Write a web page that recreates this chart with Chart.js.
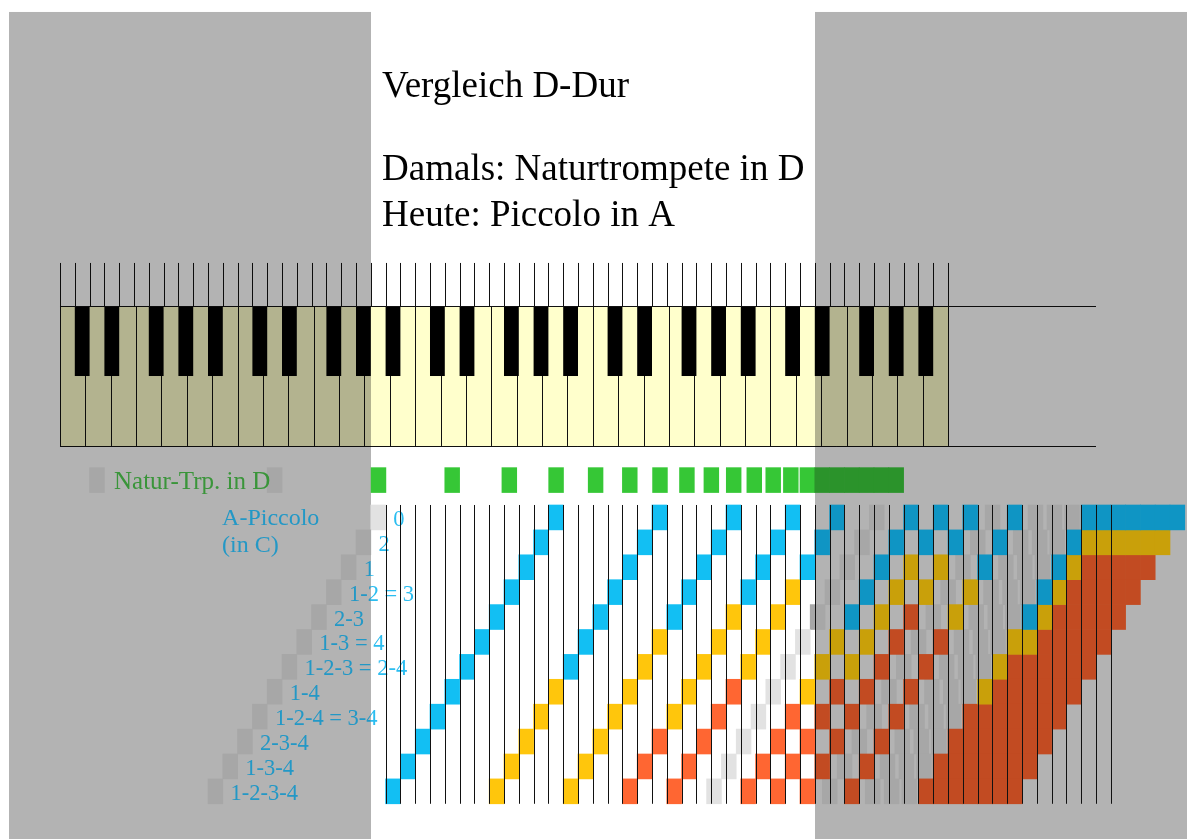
<!DOCTYPE html>
<html><head><meta charset="utf-8">
<script src="https://cdn.jsdelivr.net/npm/chart.js@4.4.1/dist/chart.umd.min.js"></script>
<style>html,body{margin:0;padding:0;background:#fff;overflow:hidden}canvas{display:block}</style>
</head><body>
<canvas id="c" width="1187" height="839" style="width:1187px;height:839px"></canvas>
<script>
// ---- data ----
const titleLines = ['Vergleich D-Dur', 'Damals: Naturtrompete in D', 'Heute: Piccolo in A'];
const trumpetLabel = 'Natur-Trp. in D';
const piccoloLabel = ['A-Piccolo', '(in C)'];
const valveLabels = ['0', '2', '1', '1-2 = 3', '2-3', '1-3 = 4', '1-2-3 = 2-4', '1-4', '1-2-4 = 3-4', '2-3-4', '1-3-4', '1-2-3-4'];
const valveSemitones = [0, 1, 2, 3, 4, 5, 6, 7, 8, 9, 10, 11];
const trumpetFundamental = 2;   // D, semitone index on the keyboard (C = 0)
const piccoloFundamental = 21;  // A
// harmonic 1..22 positions above the fundamental, in semitones
const trumpetOffsets = [0, 12, 19.02, 24, 27.86, 31.02, 33.69, 36, 38.04, 39.86, 41.51, 43.02, 44.41, 45.69, 46.88, 48, 49, 50, 51, 52, 53, 54];
const piccoloOffsets = [0, 12, 19, 24, 28, 31, 33.69, 36, 38, 40, 41.51, 43, 44.41, 45.69, 46.88, 48, 49, 50, 51, 52, 53, 54];
// g = unused (grey), G = natural trumpet, B = 1st fingering, Y = 2nd, O = 3rd and more
const trumpetColours = 'ggGGGGGGGGGGGGGGGGGGGG';
const piccoloColours = [
  'gBBBBBgBBBgBgggBBBBBBB',
  'gBBBBBgBBBgBgggBYYYYYY',
  'gBBBBBgBYYgBgggBYOOOOO',
  'gBBBBYgBYYgYgggBYOOOOO',
  'gBBBYYgBYOgYgggBYOOOOO',
  'gBBYYYgYYOgOgggYYOOOOO',
  'gBBYYYgYYOgOgggYOOOOOO',
  'gBYYYOgYOOgOgggYOOOOOO',
  'gBYYYOgOOOgOgggOOOOOOO',
  'gBYYOOgOOOgOgggOOOOOOO',
  'gBYYOOgOOOgOgggOOOOOOO',
  'gBYYOOgOOOgOgggOOOOOOO'
];
const blackKeySemitones = [1, 3, 6, 8, 10];
const keyboardOctaves = 5;
const gridColumns = [22, 71];     // first / last vertical line of the fingering grid
const brightBand = [21, 51];      // un-shaded semitone range

// ---- styles / layout ----
const COLOURS = { g: '#e2e2e2', G: '#36c736', B: '#12bff3', Y: '#ffc60c', O: '#ff6632' };
const SHADED = { g: '#a7a7a7', G: '#2b932b', B: '#0f95c4', Y: '#c9a00a', O: '#c24b22' };
const ORDER = { g: 3, G: 1, B: 1, Y: 1, O: 1 };
const TRUMPET_ROW = -1.5;
const KB = { tick: -10.22, top: -8.49, black: -5.68, bottom: -2.87, lineEnd: 70 };
const SHADE_LEFT = -3.45, SHADE_TOP = -20.3;

const groups = {};
function addCell(key, start, row) {
  if (!groups[key]) groups[key] = [];
  groups[key].push({ x: [start, start + 1], y: row });
}
trumpetColours.split('').forEach((k, i) => addCell(k === 'g' ? 'tg' : k, trumpetFundamental + trumpetOffsets[i], TRUMPET_ROW));
piccoloColours.forEach((s, r) => {
  s.split('').forEach((k, i) => addCell(k, piccoloFundamental - valveSemitones[r] + piccoloOffsets[i], valveSemitones[r]));
});
function inShade(raw) {
  const mid = (raw.x[0] + raw.x[1]) / 2;
  return mid < brightBand[0] || mid > brightBand[1];
}
const datasets = Object.keys(groups).map(k => {
  const c = k === 'tg' ? 'g' : k;
  return { label: k, data: groups[k], order: ORDER[c],
    backgroundColor: ctx => (ctx.raw && inShade(ctx.raw)) ? SHADED[c] : COLOURS[c] };
});

function bandClip(ctx, X, Y, chart, shaded) {
  ctx.beginPath();
  const top = Y(SHADE_TOP);
  if (shaded) {
    ctx.rect(X(SHADE_LEFT), top, X(brightBand[0]) - X(SHADE_LEFT), chart.height - top);
    ctx.rect(X(brightBand[1]), top, chart.width - X(brightBand[1]), chart.height - top);
  } else {
    ctx.rect(X(brightBand[0]), 0, X(brightBand[1]) - X(brightBand[0]), chart.height);
  }
  ctx.clip();
}

const decor = {
  id: 'decor',
  beforeDraw(chart) {
    const ctx = chart.ctx;
    ctx.save(); ctx.fillStyle = '#ffffff'; ctx.fillRect(0, 0, chart.width, chart.height); ctx.restore();
  },
  beforeDatasetsDraw(chart) {
    const { ctx, scales: { x, y } } = chart;
    const X = v => x.getPixelForValue(v), Y = v => y.getPixelForValue(v);
    const n = keyboardOctaves * 12;
    const vline = (xv, y0, y1) => { const px = Math.round(X(xv)) + 0.5; ctx.beginPath(); ctx.moveTo(px, Y(y0)); ctx.lineTo(px, Y(y1)); ctx.stroke(); };
    ctx.save();
    ctx.fillStyle = '#ffffcc';
    ctx.fillRect(X(0), Y(KB.top), X(n) - X(0), Y(KB.bottom) - Y(KB.top));
    ctx.strokeStyle = '#111'; ctx.lineWidth = 1;
    for (let k = 0; k <= keyboardOctaves * 7; k++) vline(k * 12 / 7, KB.top, KB.bottom);
    ctx.fillStyle = '#000';
    for (let o = 0; o < keyboardOctaves; o++) {
      blackKeySemitones.forEach(s => {
        const c = o * 12 + s;
        ctx.fillRect(X(c), Y(KB.top), X(c + 1) - X(c), Y(KB.black) - Y(KB.top));
      });
    }
    for (let c = 0; c <= n; c++) vline(c, KB.tick, KB.top);
    [KB.top, KB.bottom].forEach(v => {
      const py = Math.round(Y(v)) + 0.5;
      ctx.beginPath(); ctx.moveTo(X(0), py); ctx.lineTo(X(KB.lineEnd), py); ctx.stroke();
    });
    // grey shading outside the bright band
    ctx.globalCompositeOperation = 'multiply';
    ctx.fillStyle = '#b3b3b3';
    const top = Y(SHADE_TOP), bot = chart.height;
    const l0 = Math.round(X(SHADE_LEFT)), l1 = Math.round(X(brightBand[0]));
    const r0 = Math.round(X(brightBand[1]));
    ctx.fillRect(l0, top, l1 - l0, bot - top);
    ctx.fillRect(r0, top, chart.width - r0, bot - top);
    ctx.restore();
  },
  afterDatasetsDraw(chart) {
    const { ctx, scales: { x, y } } = chart;
    const X = v => x.getPixelForValue(v), Y = v => y.getPixelForValue(v);
    // labels, coloured per band
    [true, false].forEach(shaded => {
      ctx.save();
      bandClip(ctx, X, Y, chart, shaded);
      ctx.textBaseline = 'alphabetic'; ctx.textAlign = 'left';
      ctx.fillStyle = shaded ? '#3a953a' : '#36c736';
      ctx.font = '25px "Liberation Serif", serif';
      ctx.fillText(trumpetLabel, X(trumpetFundamental + 1.65), Y(TRUMPET_ROW + 0.36));
      ctx.fillStyle = shaded ? '#2398c6' : '#2bbdf0';
      ctx.font = '24px "Liberation Serif", serif';
      ctx.fillText(piccoloLabel[0], X(10.95), Y(0.3));
      ctx.fillText(piccoloLabel[1], X(10.95), Y(1.39));
      ctx.font = '22.5px "Liberation Serif", serif';
      valveLabels.forEach((t, r) => {
        ctx.fillText(t, X(piccoloFundamental - valveSemitones[r] + 1.52), Y(valveSemitones[r] + 0.34));
      });
      ctx.restore();
    });
    ctx.save();
    ctx.strokeStyle = '#111'; ctx.lineWidth = 1;
    const y0 = Y(valveSemitones[0] - 0.5), y1 = Y(valveSemitones[valveSemitones.length - 1] + 0.5);
    for (let c = gridColumns[0]; c <= gridColumns[1]; c++) {
      const px = Math.round(X(c)) + 0.5;
      ctx.beginPath(); ctx.moveTo(px, y0); ctx.lineTo(px, y1); ctx.stroke();
    }
    ctx.fillStyle = '#000';
    ctx.font = '37px "Liberation Serif", serif';
    ctx.textBaseline = 'alphabetic'; ctx.textAlign = 'left';
    const baselines = [-16.89, -13.55, -11.71];
    titleLines.forEach((t, i) => ctx.fillText(t, X(21.76), Y(baselines[i])));
    ctx.restore();
  }
};

new Chart(document.getElementById('c'), {
  type: 'bar',
  data: { datasets },
  options: {
    indexAxis: 'y',
    responsive: false,
    maintainAspectRatio: false,
    animation: false,
    devicePixelRatio: 1,
    layout: { padding: 0 },
    events: [],
    plugins: { legend: { display: false }, tooltip: { enabled: false }, title: { display: false } },
    datasets: { bar: { grouped: false, barPercentage: 1, categoryPercentage: 1, borderWidth: 0 } },
    scales: {
      x: { type: 'linear', min: -4.054, max: 76.149, display: false, offset: false, grid: { offset: false } },
      y: { type: 'linear', min: -20.781, max: 12.914, reverse: true, display: false, offset: false, grid: { offset: false },
           afterBuildTicks: s => { s.ticks = valveSemitones.map(v => ({ value: v })); } }
    }
  },
  plugins: [decor]
});
</script>
</body></html>
